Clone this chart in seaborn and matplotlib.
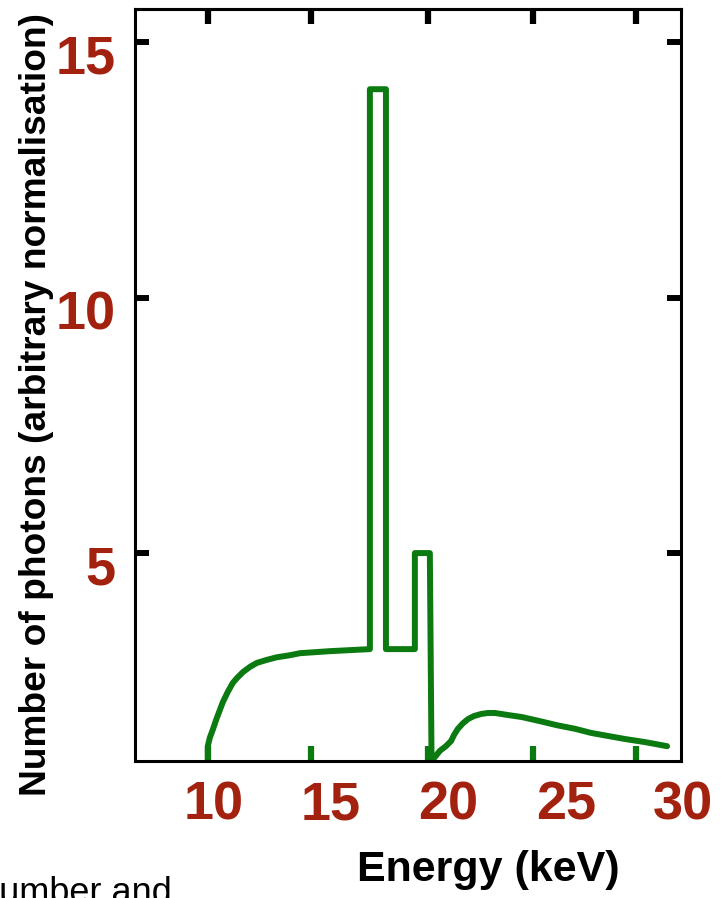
import numpy as np
import matplotlib
matplotlib.use('Agg')
import matplotlib.pyplot as plt
import matplotlib.transforms as mtransforms
import seaborn as sns

# Spectrum (energy in keV, photons in arbitrary units)
pre_edge_kev = [10.0, 10.0, 10.09, 10.23, 10.42, 10.70, 10.93, 11.17, 11.40, 11.64,
                11.96, 12.29, 12.76, 13.22, 13.83, 14.30, 15.00, 15.70, 16.64, 17.57]
pre_edge_counts = [0.93, 1.22, 1.38, 1.54, 1.77, 2.08, 2.28, 2.46, 2.57, 2.67,
                   2.77, 2.85, 2.91, 2.96, 3.00, 3.04, 3.06, 3.08, 3.10, 3.12]
line_kev = [17.57, 18.32, 18.32, 19.67, 19.67, 20.37, 20.45]
line_counts = [14.08, 14.08, 3.12, 3.12, 5.0, 5.0, 0.93]
post_edge_kev = [20.65, 20.84, 21.12, 21.36, 21.50, 21.68, 21.92, 22.15, 22.43, 22.76,
                 23.08, 23.41, 24.02, 24.67, 25.51, 26.31, 27.15, 27.90, 28.69, 29.49,
                 30.42, 31.45]
post_edge_counts = [1.03, 1.13, 1.22, 1.32, 1.44, 1.56, 1.67, 1.75, 1.81, 1.85,
                    1.87, 1.87, 1.83, 1.79, 1.71, 1.63, 1.56, 1.48, 1.42, 1.36,
                    1.30, 1.22]

energy = np.array(pre_edge_kev + line_kev + post_edge_kev)
photons = np.array(pre_edge_counts + line_counts + post_edge_counts)

xtick_pos = [10, 14.8, 20.3, 25.2, 30]
xtick_labels = ['10', '15', '20', '25', '30']
ytick_pos = [5, 10, 15]
ytick_labels = ['5', '10', '15']

green = '#0b7a10'
red = '#a3220f'

sns.set_style('ticks')
plt.rcParams['font.family'] = ['Liberation Sans', 'DejaVu Sans']

W, H = 723, 898
fig = plt.figure(figsize=(W / 100, H / 100), dpi=100)
ax = fig.add_axes([135 / W, 1 - 761 / H, (681 - 135) / W, (761 - 9) / H])

sns.lineplot(x=energy, y=photons, ax=ax, color=green, linewidth=4.3,
             sort=False, estimator=None)

ax.set_xlim(6.6, 32.1)
ax.set_ylim(0.93, 15.65)

for s in ax.spines.values():
    s.set_linewidth(2.2)
    s.set_color('black')
    s.set_visible(True)

# y ticks, inward on both sides, labels shifted down a little
ax.set_yticks(ytick_pos, labels=ytick_labels)
ax.tick_params(axis='y', direction='in', length=10, width=4.3, color='black',
               left=True, right=True, pad=14, labelsize=39, labelcolor=red)
offset = mtransforms.ScaledTranslation(0, -0.12, fig.dpi_scale_trans)
for lab in ax.get_yticklabels():
    lab.set_fontweight('bold')
    lab.set_transform(lab.get_transform() + offset)

# x ticks: green at bottom, black at top
ax.set_xticks(xtick_pos, labels=[''] * len(xtick_pos))
ax.tick_params(axis='x', direction='in', length=11, width=4.5, color=green,
               bottom=True, top=False)
top = ax.secondary_xaxis('top')
top.set_xticks(xtick_pos, labels=[''] * len(xtick_pos))
top.tick_params(direction='in', length=11, width=4.5, color='black')
top.spines['top'].set_linewidth(2.2)

# x tick labels sit evenly spaced and offset from the tick marks
label_x = np.linspace(10.28, 32.2, len(xtick_labels))
for xv, txt in zip(label_x, xtick_labels):
    ax.text(xv, 1 - (805 - 9) / (761 - 9), txt, transform=ax.get_xaxis_transform(),
            ha='center', va='center', fontsize=39, fontweight='bold',
            color=red, clip_on=False)

fig.text(488 / W, 1 - 870 / H, 'Energy (keV)', ha='center', va='center',
         fontsize=31, fontweight='bold', color='black')
fig.text(37 / W, 1 - 405 / H, 'Number of photons (arbitrary normalisation)',
         rotation=90, ha='center', va='center', fontsize=26.7, fontweight='bold',
         color='black')
fig.text(-27 / W, 1 - 903 / H, 'Number and', ha='left', va='baseline',
         fontsize=26, color='black')

fig.savefig('out.png', dpi=100)
